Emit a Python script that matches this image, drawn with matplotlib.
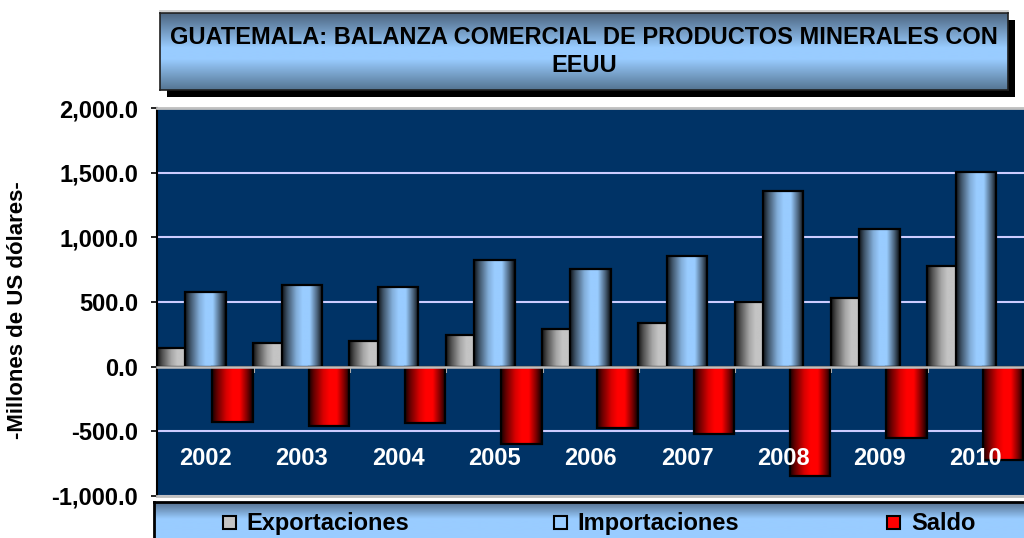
import numpy as np
import matplotlib
matplotlib.use("Agg")
import matplotlib.pyplot as plt
from matplotlib.patches import Rectangle
from matplotlib.lines import Line2D
from matplotlib.ticker import FuncFormatter
from matplotlib.colors import to_rgb

# ---------------- data ----------------
years = ["2002", "2003", "2004", "2005", "2006", "2007", "2008", "2009", "2010"]
exportaciones = [142, 183, 199, 245, 292, 338, 499, 530, 775]
importaciones = [578, 633, 615, 824, 757, 857, 1356, 1067, 1503]
saldo = [-426, -457, -438, -601, -472, -519, -844, -550, -725]
series_names = ["Exportaciones", "Importaciones", "Saldo"]
y_ticks = [-1000, -500, 0, 500, 1000, 1500, 2000]
title = "GUATEMALA: BALANZA COMERCIAL DE PRODUCTOS MINERALES CON\nEEUU"
ylabel = "-Millones de US dólares-"

# ---------------- style ----------------
plt.rcParams['font.family'] = ['Liberation Sans', 'DejaVu Sans']
plt.rcParams['font.weight'] = 'bold'

W, H = 1024, 538
fig = plt.figure(figsize=(W / 100, H / 100), dpi=100)


def fx(px):
    return px / W


def fy(py):
    return 1 - py / H


series_colors = ['#C4C4C4', '#99CCFF', '#FF0000']
offsets = [-0.295, 0.0, 0.28]
bar_w = 0.42

ax = fig.add_axes([fx(157), fy(496), fx(1024) - fx(157), fy(108) - fy(496)])
ax.set_facecolor('#003366')

# horizontal cylinder-like shading profile
tt = np.linspace(0, 1, 80)
prof = np.interp(tt, [0, 0.12, 0.35, 0.5, 0.68, 0.86, 1.0],
                 [0.10, 0.40, 0.85, 1.0, 1.0, 0.50, 0.06])

x = np.arange(len(years))
for k, (vals, off, col) in enumerate(zip([exportaciones, importaciones, saldo],
                                          offsets, series_colors)):
    rgb = np.array(to_rgb(col))
    grad = np.clip(prof[:, None] * rgb[None, :], 0, 1)[None, :, :]
    bars = ax.bar(x + off, vals, bar_w, facecolor='none', edgecolor='black',
                  linewidth=1.6, zorder=3 + 2 * k + 1)
    for r in bars:
        x0, w = r.get_x(), r.get_width()
        y0, h = r.get_y(), r.get_height()
        im = ax.imshow(grad, extent=[x0, x0 + w, min(y0, y0 + h), max(y0, y0 + h)],
                       aspect='auto', zorder=3 + 2 * k, interpolation='bilinear')
        im.set_clip_path(r)

ax.set_xlim(-0.504, 8.366)
ax.set_ylim(-1000, 2000)
ax.set_aspect('auto')

# y axis
ax.set_yticks(y_ticks)
ax.yaxis.set_major_formatter(FuncFormatter(lambda v, p: f"{v:,.1f}"))
ax.tick_params(axis='y', direction='out', length=4.3, width=1.2, color='black',
               pad=9.4, labelsize=17, labelcolor='black')
ax.yaxis.grid(True, color='#CCCCFF', linewidth=1.5)
ax.set_axisbelow(True)
ax.set_ylabel(ylabel, fontsize=16, fontweight='bold')
ax.yaxis.set_label_coords(-0.149, 0.479)

# x axis on zero line
ax.spines['bottom'].set_position(('data', 0))
ax.spines['bottom'].set_color('#BFBFBF')
ax.spines['bottom'].set_linewidth(1.8)
ax.spines['bottom'].set_zorder(20)
ax.set_xticks(x)
ax.set_xticklabels([])
ax.set_xticks(np.arange(-0.5, len(years), 1.0), minor=True)
ax.tick_params(axis='x', which='major', length=0)
ax.tick_params(axis='x', which='minor', length=4, width=1.5, color='#BFBFBF',
               direction='out')
# category labels drawn above the bars
for xi, yr in zip(x, years):
    ax.text(xi, -760, yr, ha='center', va='baseline', fontsize=17,
            color='white', zorder=30)
ax.spines['top'].set_color('#BFBFBF')
ax.spines['top'].set_linewidth(2)
ax.spines['right'].set_visible(False)
ax.spines['left'].set_color('black')
ax.spines['left'].set_linewidth(1.5)
ax.axhline(-1000, color='#BFBFBF', linewidth=2, zorder=20, clip_on=False)


def vgrad(stops_t, stops_c, n=100):
    t = np.linspace(0, 1, n)
    cols = np.array([to_rgb(c) for c in stops_c])
    arr = np.stack([np.interp(t, stops_t, cols[:, i]) for i in range(3)], axis=1)
    return arr[:, None, :]


# ---------------- title box ----------------
fig.add_artist(Line2D([fx(160), fx(1008)], [fy(11), fy(11)], color='#C8C8C8',
                      linewidth=1.2, transform=fig.transFigure))
bw_px, bh_px = 1008 - 160, 90 - 13
shadow = Rectangle((fx(167), fy(97)), bw_px / W, bh_px / H, transform=fig.transFigure,
                   facecolor='black', edgecolor='none', zorder=-1)
fig.add_artist(shadow)
tax = fig.add_axes([fx(160), fy(90), bw_px / W, bh_px / H])
tax.imshow(vgrad([0, 0.45, 0.6, 1.0], ['#4C6580', '#99CCFF', '#99CCFF', '#557592']),
           aspect='auto', extent=[0, 1, 0, 1], interpolation='bilinear')
tax.set_xticks([])
tax.set_yticks([])
for s in tax.spines.values():
    s.set_color('#202020')
    s.set_linewidth(1.2)
tax.text(0.5, 0.5, title, ha='center', va='center', fontsize=17,
         linespacing=1.3, transform=tax.transAxes, color='black')

# ---------------- legend box ----------------
lax = fig.add_axes([fx(154), fy(560), 1.05 - fx(154), fy(502) - fy(560)])
lax.imshow(vgrad([0, 0.3, 1.0], ['#4F6A88', '#99CCFF', '#99CCFF']),
           aspect='auto', extent=[0, 1, 0, 1], interpolation='bilinear')
lax.set_xticks([])
lax.set_yticks([])
for s in lax.spines.values():
    s.set_color('black')
    s.set_linewidth(2)

marker_x = [223, 554, 887]
text_x = [246, 577, 911]
for name, col, mx, tx in zip(series_names, series_colors, marker_x, text_x):
    fig.add_artist(Rectangle((fx(mx), fy(529)), 13 / W, 13 / H, transform=fig.transFigure,
                             facecolor=col, edgecolor='black', linewidth=1.5, zorder=5))
    fig.text(fx(tx), fy(530), name, ha='left', va='baseline', fontsize=17,
             color='black', zorder=5)

fig.savefig('out.png', dpi=100)
